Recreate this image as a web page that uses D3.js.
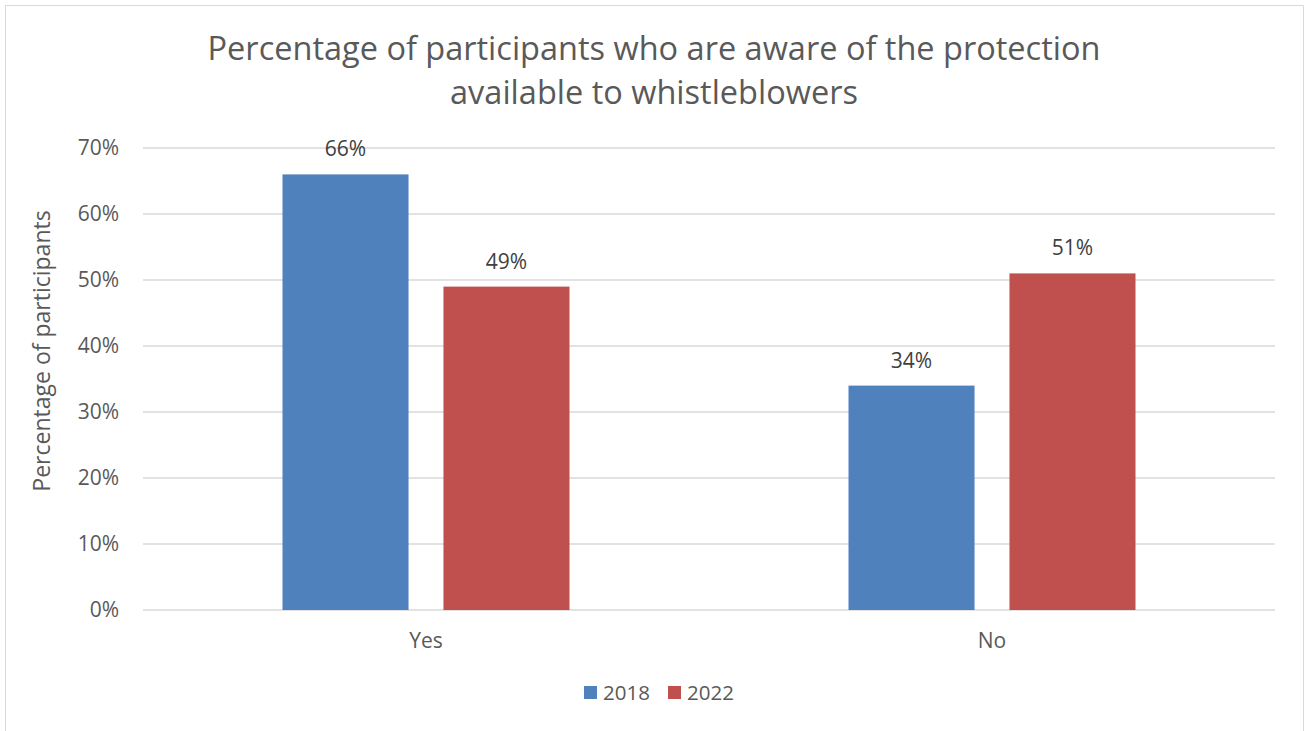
<!DOCTYPE html>
<html>
<head>
<meta charset="utf-8">
<script src="https://cdn.jsdelivr.net/npm/d3@7"></script>
<style>
  body { margin: 0; background: #fff; }
  text { font-family: "Open Sans", sans-serif; }
</style>
</head>
<body>
<script>
// chart data
let categories = ["Yes", "No"];
let seriesNames = ["2018", "2022"];
let values2018 = [66, 34];
let values2022 = [49, 51];
let yTicks = [0, 10, 20, 30, 40, 50, 60, 70];
let colors = ["#4f81bd", "#c0504d"];

let width = 1307, height = 731;

let svg = d3.select("body").append("svg")
	.attr("width", width)
	.attr("height", height);

// outer frame (left, top, right edges of the chart box)
svg.append("path")
	.attr("d", "M5.5,731 V5.5 H1303.5 V731")
	.attr("fill", "none")
	.attr("stroke", "#d9d9d9");

let margin = { top: 148, right: 32, bottom: 121, left: 143 };
let innerWidth = width - margin.left - margin.right;
let innerHeight = height - margin.top - margin.bottom;

let g = svg.append("g")
	.attr("transform", `translate(${margin.left}, ${margin.top})`);

let y = d3.scaleLinear().domain([0, 70]).range([innerHeight, 0]);
let x0 = d3.scaleBand().domain(categories).range([0, innerWidth]);
let x1 = d3.scaleBand().domain(seriesNames)
	.range([x0.bandwidth() / 2 - 143.5, x0.bandwidth() / 2 + 143.5])
	.paddingInner(0.217);

// gridlines
g.selectAll(".grid")
	.data(yTicks)
	.enter().append("line")
	.attr("x1", 0).attr("x2", innerWidth)
	.attr("y1", d => y(d)).attr("y2", d => y(d))
	.attr("stroke", "#d9d9d9")
	.attr("stroke-width", 1.3);

// y axis labels
let yAxis = d3.axisLeft(y).tickValues(yTicks).tickFormat(d => d + "%").tickSize(0).tickPadding(24);
let ya = g.append("g").call(yAxis);
ya.select(".domain").remove();
ya.selectAll("text")
	.attr("font-family", "Open Sans")
	.attr("font-size", 21)
	.attr("fill", "#595959");

// x axis labels
let xAxis = d3.axisBottom(x0).tickSize(0).tickPadding(23);
let xa = g.append("g").attr("transform", `translate(0, ${innerHeight})`).call(xAxis);
xa.select(".domain").remove();
xa.selectAll("text")
	.attr("font-family", "Open Sans")
	.attr("font-size", 21)
	.attr("fill", "#595959");

// bars
let rows = categories.map((c, i) => ({ cat: c, vals: [values2018[i], values2022[i]] }));

let groups = g.selectAll(".grp")
	.data(rows)
	.enter().append("g")
	.attr("transform", d => `translate(${x0(d.cat)}, 0)`);

groups.selectAll("rect")
	.data(d => d.vals.map((v, j) => ({ s: seriesNames[j], v: v, j: j })))
	.enter().append("rect")
	.attr("x", d => x1(d.s))
	.attr("width", x1.bandwidth())
	.attr("y", d => y(d.v))
	.attr("height", d => innerHeight - y(d.v))
	.attr("fill", d => colors[d.j]);

groups.selectAll(".lbl")
	.data(d => d.vals.map((v, j) => ({ s: seriesNames[j], v: v })))
	.enter().append("text")
	.attr("x", d => x1(d.s) + x1.bandwidth() / 2)
	.attr("y", d => y(d.v) - 18)
	.attr("text-anchor", "middle")
	.attr("font-size", 21)
	.attr("fill", "#404040")
	.text(d => d.v + "%");

// title
let title = svg.append("text")
	.attr("text-anchor", "middle")
	.attr("font-size", 32.5)
	.attr("fill", "#595959");
title.append("tspan").attr("x", 654).attr("y", 60)
	.text("Percentage of participants who are aware of the protection");
title.append("tspan").attr("x", 654).attr("y", 104)
	.text("available to whistleblowers");

// y axis title
svg.append("text")
	.attr("transform", "translate(50, 351) rotate(-90)")
	.attr("text-anchor", "middle")
	.attr("font-size", 23)
	.attr("fill", "#595959")
	.text("Percentage of participants");

// legend
let legend = svg.append("g").attr("transform", "translate(584, 686)");
let li = legend.selectAll("g")
	.data(seriesNames)
	.enter().append("g")
	.attr("transform", (d, i) => `translate(${i * 84}, 0)`);
li.append("rect")
	.attr("width", 13).attr("height", 13)
	.attr("fill", (d, i) => colors[i]);
li.append("text")
	.attr("x", 19).attr("y", 14)
	.attr("font-size", 20.5)
	.attr("fill", "#595959")
	.text(d => d);
</script>
</body>
</html>
